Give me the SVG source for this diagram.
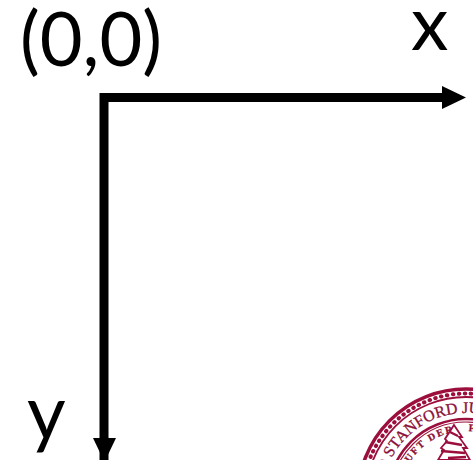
<svg xmlns="http://www.w3.org/2000/svg" width="473" height="460" viewBox="0 0 473 460">
<style>
.l{font-family:"Lato","Open Sans",sans-serif;font-size:75px;fill:#000}
.s{font-family:"Liberation Serif",serif;fill:#8c1038;stroke:#8c1038;stroke-width:.3}
.r{fill:none;stroke:#9c0f3c}
</style>
<defs>
<path id="outer" d="M 382 497 A 84 84 0 0 1 550 497"/>
<path id="inner" d="M 400 497 A 66 66 0 0 1 532 497"/>
</defs>
<rect width="473" height="460" fill="#fff"/>
<g id="seal">
<circle class="r" cx="466" cy="497" r="108" stroke-width="3.500"/>
<circle class="r" cx="466" cy="497" r="103.500" stroke-width="4" stroke-linecap="round" stroke-dasharray="0.500 5.500"/>
<circle class="r" cx="466" cy="497" r="100" stroke-width="1.800"/>
<circle class="r" cx="466" cy="497" r="78" stroke-width="2.500"/>
<circle class="r" cx="466" cy="497" r="75" stroke-width="1.200"/>
<text class="s" font-size="16"><textPath href="#outer" startOffset="25">D STANFORD JUNIOR</textPath></text>
<text class="s" font-size="10" font-weight="bold" letter-spacing="1.800"><textPath href="#inner" startOffset="36">UFT DER</textPath></text>
<text class="s" font-size="10" font-weight="bold"><textPath href="#inner" startOffset="106">F</textPath></text>
<path d="M454 425 L462 437 L459 437 L467 448 L463 448 L470 460 L438 460 L444 450 L441 448 L447 441 L445 439 Z" fill="#fff" stroke="#9c0f3c" stroke-width="1.800"/>
<path d="M450 432 L458 436 M445 442 L462 445 M441 451 L465 453 M448 458 L466 457" stroke="#9c0f3c" stroke-width="2.500" fill="none"/>
</g>
<g id="origin-label"><text class="l" x="20" y="66" textLength="142" lengthAdjust="spacingAndGlyphs">(0,0)</text></g>
<g id="x-label"><text class="l" x="411" y="50">x</text></g>
<g id="y-label"><text class="l" x="27" y="439">y</text></g>
<g id="connectors">
<path d="M104 460 V97.500 H445" fill="none" stroke="#000" stroke-width="9"/>
<path d="M442 86 L466 97.500 L442 109 Z" fill="#000"/>
<path d="M93 438 H116 L104.500 462 Z" fill="#000"/>
</g>
</svg>
